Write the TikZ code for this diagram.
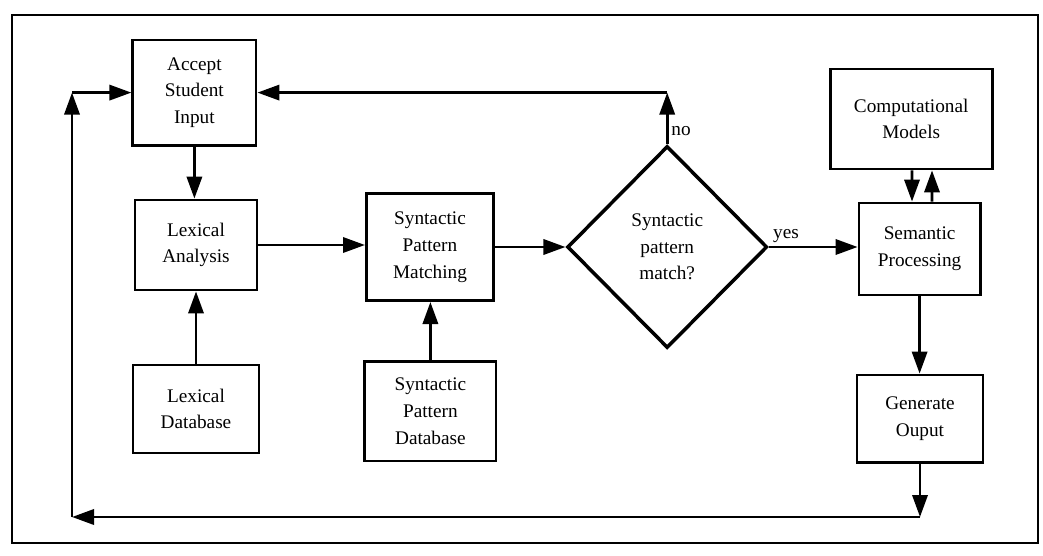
\documentclass[tikz,border=0pt]{standalone}
\usepackage{fontspec}
\setmainfont{Liberation Serif}
\usetikzlibrary{arrows.meta,positioning,shapes.geometric,calc}

\begin{document}
\begin{tikzpicture}[
    procbox/.style={draw,line width=2pt,align=center,inner sep=2pt,
                    font=\fontsize{13.7}{19}\selectfont},
    flow/.style={line width=2pt,-{Triangle[length=5.5mm,width=3.8mm]}},
    lbl/.style={font=\fontsize{13.7}{19}\selectfont,inner sep=2pt}]
  \useasboundingbox (0,0) rectangle (26.075,13.875);
  % outer frame
  \draw[line width=1.8pt] (0.3,0.3) rectangle (25.95,13.5);

  % Box 1
  \node[procbox,minimum width=3.08cm,minimum height=2.63cm]
        (accept) at (4.86,11.56) {Accept\\Student\\Input};
  % Box 2
  \node[procbox,minimum width=3.05cm,minimum height=2.25cm]
        (lexan) at (4.90,7.75) {Lexical\\Analysis};
  % Box 3
  \node[procbox,minimum width=3.15cm,minimum height=2.2cm]
        (lexdb) at (4.90,3.65) {Lexical\\Database};
  % Box 4
  \node[procbox,minimum width=3.18cm,minimum height=2.68cm]
        (synmatch) at (10.75,7.70) {Syntactic\\Pattern\\Matching};
  % Box 5
  \node[procbox,minimum width=3.28cm,minimum height=2.48cm]
        (syndb) at (10.76,3.59) {Syntactic\\Pattern\\Database};
  % Decision
  \node[procbox,diamond,line width=2.5pt,inner sep=0pt,
        minimum width=5cm,minimum height=5.05cm]
        (decide) at (16.68,7.70) {Syntactic\\pattern\\match?};
  % Box 6
  \node[procbox,minimum width=4.05cm,minimum height=2.5cm]
        (comp) at (22.78,10.9) {Computational\\Models};
  % Box 7
  \node[procbox,minimum width=3.03cm,minimum height=2.3cm]
        (sem) at (22.99,7.65) {Semantic\\Processing};
  % Box 8
  \node[procbox,minimum width=3.15cm,minimum height=2.18cm]
        (gen) at (23.0,3.41) {Generate\\Ouput};

  % corners of the return paths
  \coordinate (base) at (1.8,0.95);
  \coordinate (retR) at (gen.south |- base);
  \coordinate (retL) at (base);
  \coordinate (retT) at (base |- accept.west);
  \coordinate (nocorner) at (decide.north |- accept.east);

  % main flow
  \draw[flow] (accept.south) -- (accept.south |- lexan.north);
  \draw[flow] (lexdb.north) -- (lexdb.north |- lexan.south);
  \draw[flow] (lexan.east) -- (lexan.east -| synmatch.west);
  \draw[flow] (syndb.north) -- (syndb.north |- synmatch.south);
  \draw[flow] (synmatch.east) -- (decide.west);
  \draw[flow] (decide.east) -- (decide.east -| sem.west)
        node[lbl,pos=0,above right] {yes};
  \draw[flow] (decide.north) -- (nocorner)
        node[lbl,pos=0.25,right] {no};
  \draw[flow] (nocorner) -- (accept.east);
  \draw[flow] ($(comp.south)+(0.02,0)$) -- ($(sem.north)+(-0.19,0)$);
  \draw[flow] ($(sem.north)+(0.31,0)$) -- ($(comp.south)+(0.52,0)$);
  \draw[flow] (sem.south) -- (sem.south |- gen.north);

  % back to the start
  \draw[flow] (gen.south) -- (retR);
  \draw[flow] (retR) -- (retL);
  \draw[flow] (retL) -- (retT);
  \draw[flow] (retT) -- (accept.west);
\end{tikzpicture}
\end{document}
